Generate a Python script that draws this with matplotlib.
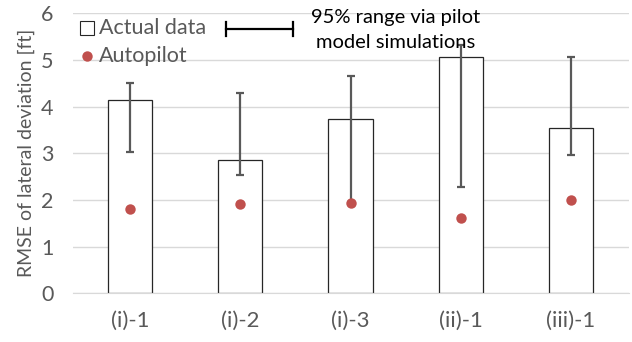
#!/usr/bin/env python3

"""
RMSE of lateral deviation: actual data vs. autopilot, with 95% range from pilot model simulations.
"""

import numpy as np
import matplotlib
matplotlib.use("Agg")
import matplotlib.pyplot as plt
from matplotlib.lines import Line2D

# data
conditions = ["(i)-1", "(i)-2", "(i)-3", "(ii)-1", "(iii)-1"]
actual_rmse = [4.14, 2.86, 3.73, 5.07, 3.55]
sim_upper = [4.50, 4.30, 4.66, 5.32, 5.07]
sim_lower = [3.02, 2.53, 1.95, 2.27, 2.96]
autopilot_rmse = [1.80, 1.91, 1.93, 1.61, 2.00]
y_ticks = [0, 1, 2, 3, 4, 5, 6]

GRAY_TEXT = "#595959"
RED = "#C0504D"
W, H = 632, 342

plt.rcParams["font.family"] = ["Lato", "DejaVu Sans"]


def fx(px):
    return px / W


def fy(py):
    return 1 - py / H


def main():
    fig = plt.figure(figsize=(6.32, 3.42), dpi=100)
    ax = fig.add_axes([0.1155, 0.1424, 0.88, 0.8186])

    x = np.arange(len(conditions))
    actual = np.array(actual_rmse)
    upper = np.array(sim_upper)
    lower = np.array(sim_lower)
    mid = (upper + lower) / 2

    ax.bar(x, actual, width=0.4, color="white", edgecolor="#262626",
           linewidth=0.9, zorder=2)
    ax.errorbar(x, mid, yerr=[mid - lower, upper - mid], fmt="none",
                ecolor=GRAY_TEXT, elinewidth=1.6, capsize=2.6,
                capthick=1.6, zorder=3)
    ax.plot(x, autopilot_rmse, "o", color=RED, markersize=7.5,
            markeredgewidth=0, zorder=4)

    ax.set_xlim(-0.52, 4.53)
    ax.set_ylim(0, 6)
    ax.set_yticks(y_ticks)
    ax.set_xticks(x)
    ax.set_xticklabels(conditions)
    ax.yaxis.grid(True, color="#d9d9d9", linewidth=1.0, zorder=0)
    ax.set_axisbelow(True)
    for s in ["top", "right", "left"]:
        ax.spines[s].set_visible(False)
    ax.spines["bottom"].set_color("#d9d9d9")
    ax.tick_params(axis="both", length=0, colors=GRAY_TEXT)
    ax.tick_params(axis="x", labelsize=16, pad=13)
    ax.tick_params(axis="y", labelsize=15.5, pad=14)
    ax.set_ylabel("RMSE of lateral deviation [ft]", fontsize=14,
                  color=GRAY_TEXT, labelpad=4)

    # legend for bars and dots, drawn by hand
    fig.add_artist(Line2D([fx(87)], [fy(28)], marker="s", linestyle="none",
                          markersize=9.5, markerfacecolor="white",
                          markeredgecolor="#262626", markeredgewidth=0.8,
                          transform=fig.transFigure))
    fig.add_artist(Line2D([fx(87)], [fy(56)], marker="o", linestyle="none",
                          markersize=7.5, markerfacecolor=RED,
                          markeredgewidth=0, transform=fig.transFigure))
    fig.text(fx(99), fy(28), "Actual data", ha="left", va="center",
             fontsize=15.5, color=GRAY_TEXT)
    fig.text(fx(99), fy(56), "Autopilot", ha="left", va="center",
             fontsize=15.5, color=GRAY_TEXT)

    # error bar legend glyph
    y0 = fy(29)
    fig.add_artist(Line2D([fx(226), fx(293)], [y0, y0], color="black",
                          lw=1.6, transform=fig.transFigure))
    for xc in (fx(226), fx(293)):
        fig.add_artist(Line2D([xc, xc], [fy(22), fy(36)],
                              color="black", lw=1.6,
                              transform=fig.transFigure))
    fig.text(fx(396), fy(30), "95% range via pilot\nmodel simulations",
             ha="center", va="center", fontsize=14.5, color="black",
             linespacing=1.6)

    fig.savefig("out.png", dpi=100)


if __name__ == "__main__":
    main()
